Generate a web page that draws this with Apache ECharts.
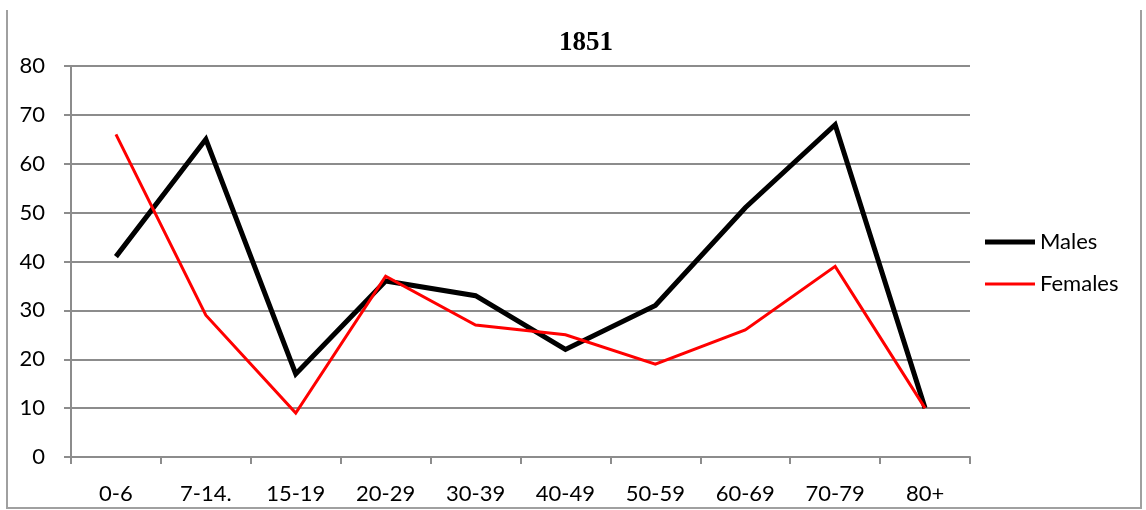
<!DOCTYPE html>
<html>
<head>
<meta charset="utf-8">
<script src="https://cdn.jsdelivr.net/npm/echarts@6/dist/echarts.min.js"></script>
<style>
  html, body { margin: 0; padding: 0; background: #fff; }
  #chart { width: 1146px; height: 510px; }
</style>
</head>
<body>
<div id="chart"></div>
<script>
// Age groups along the x axis
const ageGroups = ['0-6', '7-14.', '15-19', '20-29', '30-39', '40-49', '50-59', '60-69', '70-79', '80+'];
// Counts per age group, 1851
const males = [41, 65, 17, 36, 33, 22, 31, 51, 68, 10];
const females = [66, 29, 9, 37, 27, 25, 19, 26, 39, 10];
const yTicks = [0, 10, 20, 30, 40, 50, 60, 70, 80];

const font = 'Lato, "Open Sans", sans-serif';
const chart = echarts.init(document.getElementById('chart'));

// one legend block per series so each key keeps its own stroke weight
function legendBlock(name, top, height) {
  return {
    orient: 'vertical',
    left: 980, top: top,
    itemWidth: 50, itemHeight: height, itemGap: 0,
    icon: 'rect',
    textStyle: { fontFamily: font, fontSize: 22, color: '#000' },
    data: [name]
  };
}

chart.setOption({
  animation: false,
  backgroundColor: '#fff',
  title: {
    text: '1851',
    left: 581, top: 25, textAlign: 'center',
    textStyle: { fontFamily: '"Liberation Serif", "DejaVu Serif", serif', fontWeight: 'bold', fontSize: 27, color: '#000' }
  },
  legend: [
    legendBlock('Males', 226, 5),
    legendBlock('Females', 268, 3)
  ],
  grid: { left: 71, right: 176, top: 66, bottom: 53 },
  xAxis: {
    type: 'category',
    data: ageGroups,
    boundaryGap: true,
    axisLine: { lineStyle: { color: '#8c8c8c', width: 2 } },
    axisTick: { show: true, alignWithLabel: false, length: 7, lineStyle: { color: '#8c8c8c', width: 2 } },
    axisLabel: { fontFamily: font, fontSize: 22, color: '#000', margin: 26 },
    splitLine: { show: false }
  },
  yAxis: {
    type: 'value',
    min: yTicks[0], max: yTicks[yTicks.length - 1], interval: 10,
    axisLine: { show: true, lineStyle: { color: '#8c8c8c', width: 2 } },
    axisTick: { show: true, length: 7, lineStyle: { color: '#8c8c8c', width: 2 } },
    axisLabel: { fontFamily: font, fontSize: 22, color: '#000', margin: 26 },
    splitLine: { show: true, lineStyle: { color: '#8c8c8c', width: 2 } }
  },
  series: [
    {
      name: 'Males', type: 'line', data: males,
      symbol: 'none', color: '#000',
      lineStyle: { color: '#000', width: 5, join: 'miter' }
    },
    {
      name: 'Females', type: 'line', data: females,
      symbol: 'none', color: '#ff0000',
      lineStyle: { color: '#ff0000', width: 3, join: 'miter' }
    }
  ],
  graphic: [
    { type: 'polyline', silent: true,
      shape: { points: [[7, 10], [7, 508], [1141, 508], [1141, 10]] },
      style: { stroke: '#a0a0a0', lineWidth: 2, fill: null } }
  ]
});
</script>
</body>
</html>
